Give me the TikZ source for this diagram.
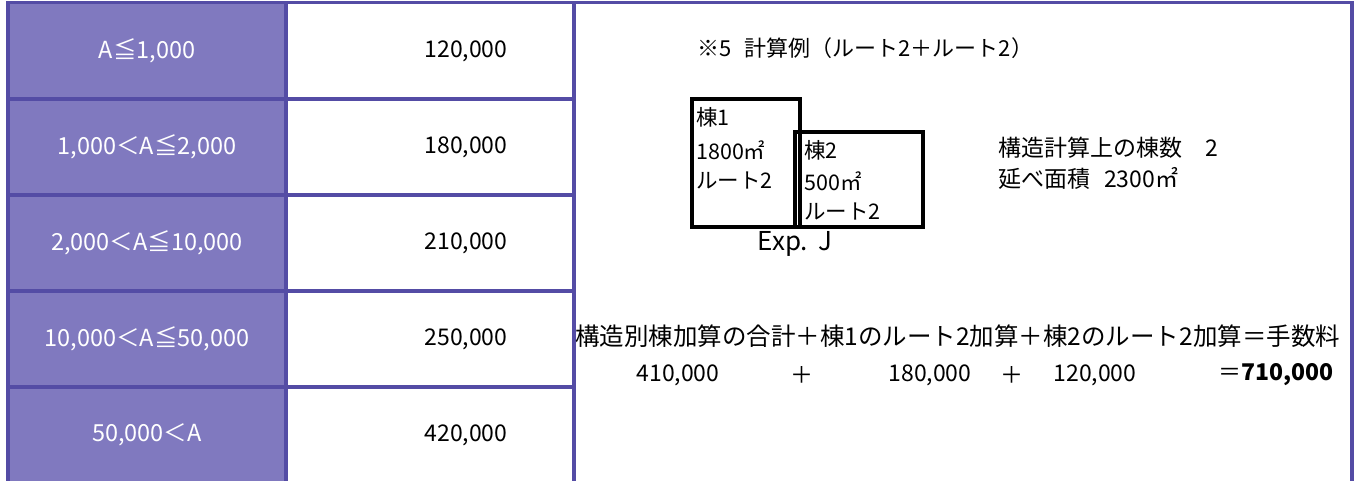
\documentclass[tikz,border=0pt]{standalone}
\usepackage{fontspec}
\setmainfont{Noto Sans CJK JP}
\definecolor{cellfill}{RGB}{128,121,191}
\definecolor{gridline}{RGB}{84,76,165}
\begin{document}
\begin{tikzpicture}[x=1pt,y=1pt]
\tikzstyle{every node}+=[inner sep=0pt]
\tikzstyle{tableline}=[gridline, line width=3.4pt]
\tikzstyle{rangecell}=[white, font=\fontsize{23.5}{24}\selectfont]
\tikzstyle{fee}=[black, font=\fontsize{23}{24}\selectfont]
\tikzstyle{note}=[black, anchor=west, font=\fontsize{22}{22}\selectfont]
\tikzstyle{bldg}=[black, line width=3.2pt]
\useasboundingbox (0,0) rectangle (1358,-481);
% table
\fill [cellfill] (8,-3) rectangle (286,-481);
\draw [tableline] (6.3,-2.5) -- (1353.7,-2.5);
\draw [tableline] (8,-2.5) -- (8,-481);
\draw [tableline] (286,-2.5) -- (286,-481);
\draw [tableline] (574,-2.5) -- (574,-481);
\draw [tableline] (1352,-2.5) -- (1352,-481);
\draw [tableline] (8,-99) -- (574,-99);
\draw [tableline] (8,-195) -- (574,-195);
\draw [tableline] (8,-291) -- (574,-291);
\draw [tableline] (8,-387) -- (574,-387);
\node [rangecell] (r1) at (147,-51) {A≦1,000};
\node [rangecell] (r2) at (147,-147) {1,000＜A≦2,000};
\node [rangecell] (r3) at (147,-243) {2,000＜A≦10,000};
\node [rangecell] (r4) at (147,-339) {10,000＜A≦50,000};
\node [rangecell] (r5) at (147,-435) {50,000＜A};
\node [fee] (f1) at (466,-51) {120,000};
\node [fee] (f2) at (466,-147) {180,000};
\node [fee] (f3) at (466,-243) {210,000};
\node [fee] (f4) at (466,-339) {250,000};
\node [fee] (f5) at (466,-435) {420,000};
% example
\node [note] (title) at (697,-48) {※5\hspace{0.6em}計算例（ルート2＋ルート2）};
\draw [bldg] (692,-99) rectangle (800,-227);
\draw [bldg] (795,-132) rectangle (923,-227);
\node [note, font=\fontsize{21.5}{22}\selectfont] (b1a) at (696,-117) {棟1};
\node [note, font=\fontsize{21.5}{22}\selectfont] (b1b) at (696,-150) {1800㎡};
\node [note, font=\fontsize{21.5}{22}\selectfont] (b1c) at (696,-181) {ルート2};
\node [note, font=\fontsize{21.5}{22}\selectfont] (b2a) at (804,-150) {棟2};
\node [note, font=\fontsize{21.5}{22}\selectfont] (b2b) at (804,-181) {500㎡};
\node [note, font=\fontsize{21.5}{22}\selectfont] (b2c) at (804,-212) {ルート2};
\node [black, font=\fontsize{26}{26}\selectfont] (exp) at (795,-244) {Exp.\hspace{0.4em}J};
\node [note, font=\fontsize{23}{23}\selectfont] (count) at (998,-148) {構造計算上の棟数\hspace{1em}2};
\node [note, font=\fontsize{23}{23}\selectfont] (area) at (998,-178) {延べ面積\hspace{0.6em}2300㎡};
\node [note, font=\fontsize{24.5}{25}\selectfont] (sum) at (575,-336) {構造別棟加算の合計＋棟1のルート2加算＋棟2のルート2加算＝手数料};
\node [fee] (v1) at (678,-375) {410,000};
\node [fee] (p1) at (802,-375) {＋};
\node [fee] (v2) at (930,-375) {180,000};
\node [fee] (p2) at (1012,-375) {＋};
\node [fee] (v3) at (1095,-375) {120,000};
\node [fee, anchor=east] (total) at (1334,-375) {＝\textbf{710,000}};
\end{tikzpicture}
\end{document}
